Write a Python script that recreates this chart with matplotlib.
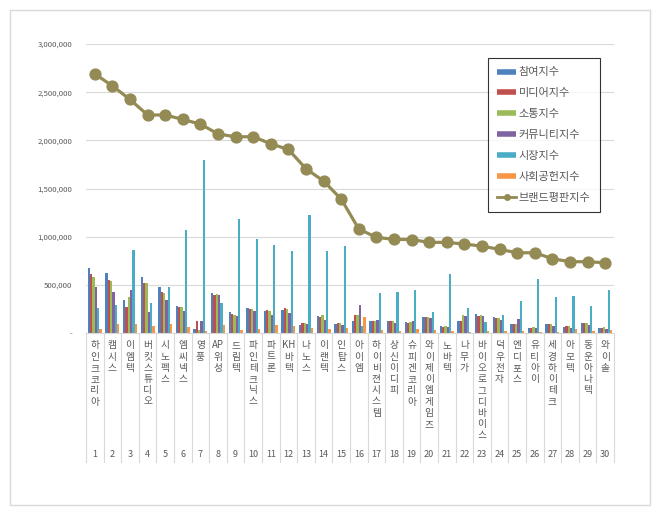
import numpy as np
import matplotlib as mpl
mpl.use('Agg')
import matplotlib.pyplot as plt
from matplotlib.lines import Line2D
from matplotlib.patches import Rectangle
import matplotlib.transforms as mtransforms

#Fonts, Korean first then DejaVu for anything missing.
plt.rcParams['font.family'] = ['Noto Sans CJK KR', 'DejaVu Sans']

#Company names in ranking order.
companies = ['하인크코리아', '캠시스', '이엠텍', '버킷스튜디오', '시노펙스', '엠씨넥스', '영풍',
             'AP위성', '드림텍', '파인테크닉스', '파트론', 'KH바텍', '나노스', '이랜텍', '인탑스',
             '아이엠', '하이비젼시스템', '상신이디피', '슈피겐코리아', '와이제이엠게임즈', '노바텍',
             '나무가', '바이오로그디바이스', '덕우전자', '엔디포스', '유티아이', '세경하이테크',
             '아모텍', '동운아나텍', '와이솔']
ranks = [str(i) for i in range(1, 31)]

#Index values.
participation = [674000, 622000, 342000, 584000, 477000, 280000, 41000, 415000, 218000, 259000,
                 228000, 239000, 80000, 180000, 97000, 124000, 124000, 124000, 114000, 166000,
                 69000, 128000, 200000, 169000, 93000, 52000, 97000, 66000, 107000, 48000]
media = [615000, 553000, 273000, 519000, 425000, 270000, 124000, 391000, 200000, 249000,
         239000, 259000, 104000, 163000, 104000, 190000, 121000, 121000, 107000, 166000,
         62000, 128000, 176000, 159000, 93000, 52000, 90000, 69000, 100000, 52000]
communication = [584000, 543000, 373000, 519000, 415000, 270000, 31000, 405000, 190000, 249000,
                 228000, 245000, 104000, 187000, 104000, 190000, 121000, 121000, 114000, 166000,
                 73000, 187000, 187000, 156000, 97000, 59000, 90000, 73000, 107000, 62000]
community = [480000, 425000, 443000, 218000, 342000, 228000, 124000, 398000, 180000, 228000,
             183000, 207000, 90000, 135000, 83000, 290000, 135000, 104000, 124000, 156000,
             62000, 176000, 176000, 135000, 145000, 48000, 73000, 55000, 83000, 45000]
market = [256000, 290000, 861000, 308000, 477000, 1068000, 1795000, 311000, 1183000, 975000,
          916000, 850000, 1224000, 847000, 902000, 69000, 415000, 425000, 443000, 218000,
          609000, 263000, 114000, 190000, 332000, 560000, 373000, 384000, 284000, 443000]
social = [41000, 90000, 90000, 73000, 90000, 62000, 21000, 86000, 35000, 41000,
          80000, 76000, 52000, 38000, 52000, 166000, 31000, 21000, 41000, 31000,
          21000, 14000, 24000, 21000, 21000, 10000, 14000, 45000, 24000, 35000]
brand = [2690000, 2565000, 2424000, 2263000, 2263000, 2217000, 2168000, 2067000, 2036000, 2038000,
         1964000, 1905000, 1705000, 1577000, 1390000, 1079000, 993000, 972000, 970000, 941000,
         941000, 923000, 902000, 868000, 833000, 833000, 771000, 740000, 740000, 729000]

series_names = ['참여지수', '미디어지수', '소통지수', '커뮤니티지수', '시장지수', '사회공헌지수']
line_name = '브랜드평판지수'
y_ticks = [0, 500000, 1000000, 1500000, 2000000, 2500000, 3000000]

#Excel 2010 palette.
bar_colors = ['#4F81BD', '#C0504D', '#9BBB59', '#8064A2', '#4BACC6', '#F79646']
line_color = '#948A54'
text_color = '#595959'
grid_color = '#D9D9D9'

W, H, DPI = 660, 515, 100


def fmt_tick(v):
	#Excel shows zero as a dash.
	if v == 0:
		return '-'
	return '{:,}'.format(v)


def draw_bars(ax, all_series):
	x = np.arange(len(companies))
	w = 0.8 / len(all_series)
	for j, vals in enumerate(all_series):
		ax.bar(x + (j - 2.5) * w, vals, width=w, color=bar_colors[j], linewidth=0, zorder=2)


def draw_category_axis(ax):
	#Vertical stacked names, rank numbers and separators under the axis.
	trans = mtransforms.blended_transform_factory(ax.transData, ax.transAxes)
	axes_h_px = ax.get_position().height * H
	sep_len = 129.0 / axes_h_px
	for i in range(len(companies) + 1):
		ax.add_line(Line2D([i - 0.5, i - 0.5], [0, -sep_len], transform=trans,
		                   color=grid_color, lw=0.8, clip_on=False))
	step = 11.3 * 72.0 / DPI
	for i, name in enumerate(companies):
		#Latin runs stay together on one row.
		rows = []
		for ch in name:
			if ch.isascii() and rows and rows[-1].isascii():
				rows[-1] += ch
			else:
				rows.append(ch)
		for k, r in enumerate(rows):
			ax.annotate(r, xy=(i, 0), xycoords=trans, xytext=(0, -8.8 - k * step),
			            textcoords='offset points', ha='center', va='center',
			            fontsize=7, color=text_color, annotation_clip=False)
		ax.annotate(ranks[i], xy=(i, 0), xycoords=trans, xytext=(0, -87.8),
		            textcoords='offset points', ha='center', va='center',
		            fontsize=6.5, color=text_color, annotation_clip=False)


def main():
	fig = plt.figure(figsize=(W / DPI, H / DPI), dpi=DPI)
	ax = fig.add_axes([86.0 / W, 1 - 333.0 / H, 528.0 / W, 289.0 / H])

	#Light frame around the whole chart.
	fig.patches.append(Rectangle((10.0 / W, 1 - 505.0 / H), 640.0 / W, 495.0 / H,
	                             transform=fig.transFigure, fill=False,
	                             edgecolor=grid_color, lw=1))

	all_series = [participation, media, communication, community, market, social]
	draw_bars(ax, all_series)
	x = np.arange(len(companies))
	ax.plot(x, brand, color=line_color, lw=2.3, marker='o', markersize=7.8, zorder=3)

	ax.set_xlim(-0.5, len(companies) - 0.5)
	ax.set_ylim(0, 3000000)
	ax.set_yticks(y_ticks)
	ax.set_yticklabels([fmt_tick(v) for v in y_ticks], fontsize=5.6, color=text_color)
	ax.tick_params(axis='y', length=0, pad=10)
	ax.set_xticks([])
	ax.yaxis.grid(True, color=grid_color, lw=0.8, zorder=0)
	ax.set_axisbelow(True)
	for s in ['left', 'right', 'top']:
		ax.spines[s].set_visible(False)
	ax.spines['bottom'].set_color(grid_color)

	draw_category_axis(ax)

	#Legend with thin colour strips like Excel.
	handles = [Line2D([0], [0], color=c, lw=4, solid_capstyle='butt') for c in bar_colors]
	handles.append(Line2D([0], [0], color=line_color, lw=2, marker='o', markersize=4))
	leg = fig.legend(handles, series_names + [line_name], loc='upper left',
	                 bbox_to_anchor=(488.0 / W, 1 - 58.0 / H), fontsize=8,
	                 frameon=True, fancybox=False, edgecolor='black', labelspacing=0.98,
	                 handlelength=1.7, handletextpad=0.2, borderpad=0.85, borderaxespad=0)
	leg.get_frame().set_linewidth(0.8)
	for t in leg.get_texts():
		t.set_color(text_color)

	fig.savefig('out.png', dpi=DPI)


if __name__ == "__main__":
	main()
